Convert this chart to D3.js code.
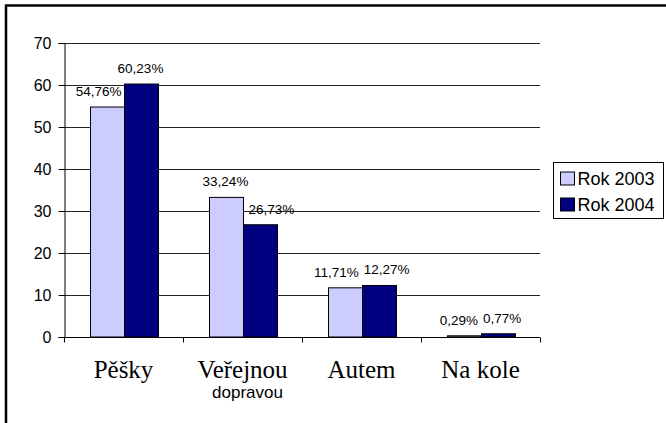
<!DOCTYPE html>
<html>
<head>
<meta charset="utf-8">
<script src="https://cdn.jsdelivr.net/npm/d3@7"></script>
<style>
  body { margin: 0; background: #fff; }
  svg { display: block; }
  text { font-family: "Liberation Sans", Arial, sans-serif; fill: #000; }
</style>
</head>
<body>
<svg width="666" height="423"></svg>
<script>
// data
var categories = ['Pěšky', 'Veřejnou\ndopravou', 'Autem', 'Na kole'];
var seriesNames = ['Rok 2003', 'Rok 2004'];
var rok2003 = [54.76, 33.24, 11.71, 0.29];
var rok2004 = [60.23, 26.73, 12.27, 0.77];
var yTicks = [0, 10, 20, 30, 40, 50, 60, 70];
var colors = ['#ccccff', '#000080'];

var svg = d3.select('svg');
var margin = {top: 43, right: 126, bottom: 86, left: 64};
var width = 666 - margin.left - margin.right;
var height = 423 - margin.top - margin.bottom;

// chart area frame (right and bottom edge fall outside the picture)
svg.append('rect')
  .attr('x', 6).attr('y', 5.5)
  .attr('width', 700).attr('height', 500)
  .attr('fill', 'none')
  .attr('stroke', '#000')
  .attr('stroke-width', 2.5);

var g = svg.append('g')
  .attr('transform', 'translate(' + margin.left + ',' + margin.top + ')');

var x = d3.scaleBand()
  .domain(categories)
  .range([0, width])
  .paddingInner(0)
  .paddingOuter(0);
var x1 = d3.scaleBand()
  .domain(seriesNames)
  .range([0, x.bandwidth()])
  .paddingInner(0)
  .paddingOuter(0.75);
var y = d3.scaleLinear()
  .domain([0, 70])
  .range([height, 0]);

// gridlines
g.append('g')
  .selectAll('line')
  .data(yTicks.slice(1))
  .enter().append('line')
  .attr('x1', 0).attr('x2', width)
  .attr('y1', function(d) { return Math.round(y(d)) + 0.5; })
  .attr('y2', function(d) { return Math.round(y(d)) + 0.5; })
  .attr('stroke', '#222')
  .attr('stroke-width', 1);

// y axis
var yAxis = g.append('g')
  .attr('transform', 'translate(0.5,0)')
  .call(d3.axisLeft(y).tickValues(yTicks).tickSize(6).tickPadding(7).tickFormat(d3.format('d')));
yAxis.select('.domain').attr('stroke', '#000');
yAxis.selectAll('text')
  .attr('font-size', 16)
  .attr('font-family', '"Liberation Sans", Arial, sans-serif');

// bars
var rows = categories.map(function(c, i) {
  return {cat: c, values: [rok2003[i], rok2004[i]]};
});
var groups = g.selectAll('.grp')
  .data(rows)
  .enter().append('g')
  .attr('class', 'grp')
  .attr('transform', function(d) { return 'translate(' + x(d.cat) + ',0)'; });

groups.selectAll('rect')
  .data(function(d) {
    return d.values.map(function(v, j) { return {s: seriesNames[j], v: v, j: j}; });
  })
  .enter().append('rect')
  .attr('x', function(d) { return Math.round(x1(d.s)) + 0.5; })
  .attr('y', function(d) { return y(d.v); })
  .attr('width', Math.round(x1.bandwidth()))
  .attr('height', function(d) { return height - y(d.v); })
  .attr('fill', function(d) { return colors[d.j]; })
  .attr('stroke', '#000')
  .attr('stroke-width', 1);

// data labels, nudged off the neighbouring bar and apart from each other
var fmt = function(v) { return v.toFixed(2).replace('.', ',') + '%'; };
groups.each(function(d) {
  var grp = d3.select(this);
  var labels = d.values.map(function(v, j) {
    var t = grp.append('text')
      .attr('text-anchor', 'middle')
      .attr('font-size', 13.5)
      .text(fmt(v));
    return {t: t, cx: x1(seriesNames[j]) + x1.bandwidth() / 2, cy: y(v) - 16, w: t.node().getComputedTextLength()};
  });
  var a = labels[0], b = labels[1];
  var split = x1(seriesNames[1]);
  // light label hanging over the taller dark bar
  if (a.cy + 7 > y(d.values[1]) && a.cx + a.w / 2 > split - 2) {
    a.cx = split - 2 - a.w / 2;
  }
  // dark label hanging over the taller light bar
  if (b.cy + 7 > y(d.values[0]) && b.cx - b.w / 2 < split + 6) {
    b.cx = split + 6 + b.w / 2;
  }
  if (Math.abs(a.cy - b.cy) < 15) {
    var gap = (b.cx - b.w / 2) - (a.cx + a.w / 2);
    if (gap < 5) {
      var push = (5 - gap) / 2;
      a.cx -= push;
      b.cx += push;
    }
  }
  labels.forEach(function(l) {
    l.t.attr('x', l.cx).attr('y', l.cy + 5);
  });
});

// x axis
var xAxis = g.append('g')
  .attr('transform', 'translate(0,' + (Math.round(height) + 0.5) + ')');
xAxis.append('line')
  .attr('x1', 0).attr('x2', width)
  .attr('stroke', '#000');
xAxis.selectAll('.tk')
  .data(categories.concat(['end']))
  .enter().append('line')
  .attr('x1', function(d, i) { return Math.round(i * x.bandwidth()) + 0.5; })
  .attr('x2', function(d, i) { return Math.round(i * x.bandwidth()) + 0.5; })
  .attr('y1', 0).attr('y2', 5)
  .attr('stroke', '#000');

xAxis.selectAll('.cat')
  .data(categories)
  .enter().append('text')
  .attr('class', 'cat')
  .attr('text-anchor', 'middle')
  .attr('transform', function(d) { return 'translate(' + (x(d) + x.bandwidth() / 2) + ',0)'; })
  .each(function(d) {
    var parts = d.split('\n');
    var t = d3.select(this);
    t.append('tspan')
      .attr('x', 0).attr('y', 40)
      .attr('font-family', '"Liberation Serif", "Times New Roman", serif')
      .attr('font-size', 25)
      .text(parts[0]);
    parts.slice(1).forEach(function(p) {
      t.append('tspan')
        .attr('x', 5).attr('y', 60)
        .attr('font-size', 17)
        .text(p);
    });
  });

// legend
var legend = svg.append('g').attr('transform', 'translate(553.5,162.5)');
legend.append('rect')
  .attr('width', 110).attr('height', 56)
  .attr('fill', '#fff')
  .attr('stroke', '#000');
var items = legend.selectAll('.item')
  .data(seriesNames)
  .enter().append('g')
  .attr('transform', function(d, i) { return 'translate(7,' + (9.5 + i * 26) + ')'; });
items.append('rect')
  .attr('width', 14).attr('height', 13)
  .attr('fill', function(d, i) { return colors[i]; })
  .attr('stroke', '#000');
items.append('text')
  .attr('x', 17).attr('y', 13)
  .attr('font-size', 18)
  .text(function(d) { return d; });
</script>
</body>
</html>
